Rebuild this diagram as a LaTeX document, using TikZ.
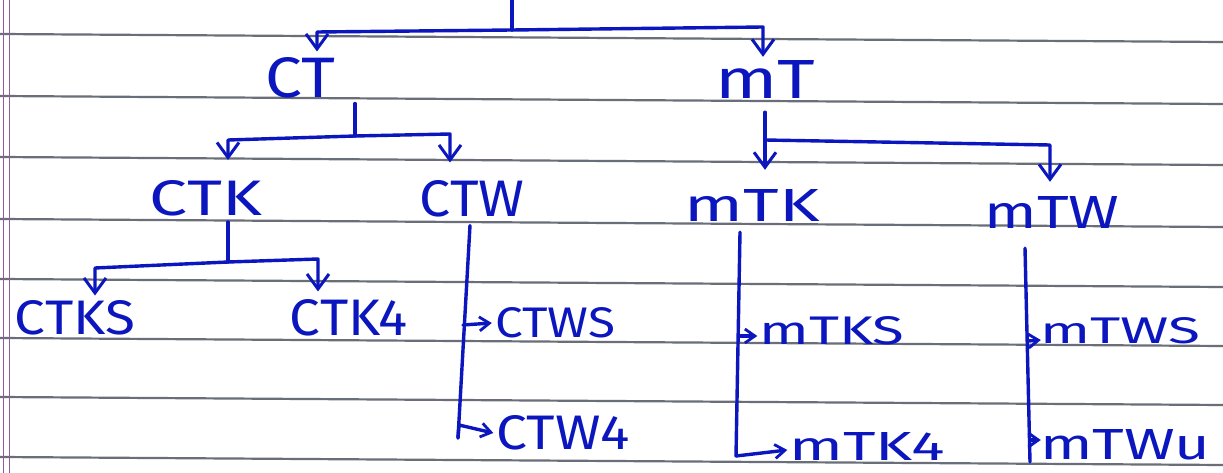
\documentclass[tikz,border=0pt]{standalone}
\usepackage{fontspec}
\usepackage{graphicx}
\setmainfont{Fira Sans}
\usetikzlibrary{arrows.meta}
\definecolor{ink}{RGB}{12,22,190}
\definecolor{rule}{RGB}{105,110,120}
\definecolor{margin}{RGB}{150,90,160}
\newcommand{\hw}[3]{\resizebox{#1pt}{#2pt}{#3}}
\tikzset{
  lab/.style={inner sep=0pt, text=ink, font=\fontsize{40}{40}\selectfont},
  link/.style={draw=ink, line width=3.4pt, line cap=round, line join=round},
  arr/.style={link, -{Straight Barb[length=15pt,width=22pt,line width=3pt]}},
  sarr/.style={link, -{Straight Barb[length=10pt,width=14pt,line width=2.8pt]}},
  paperline/.style={draw=rule, line width=2.2pt}
}
\begin{document}
\begin{tikzpicture}[x=1pt,y=-1pt]
\useasboundingbox (0,0) rectangle (1223,473);
\fill[white] (0,0) rectangle (1223,473);
% ruled paper
\foreach \y in {34,96,157,219,279,338,397,457}
  \draw[paperline] (0,\y) -- (1223,\y+8);
\draw[margin, line width=0.8pt] (3,0) -- (3,473);
\draw[margin, line width=0.8pt] (9,0) -- (9,473);

% nodes
\node[lab] (CT)   at (300,78)  {\hw{70}{40}{CT}};
\node[lab] (mT)   at (765,80)  {\hw{100}{38}{mT}};
\node[lab] (CTK)  at (206,198) {\hw{112}{35}{CTK}};
\node[lab] (CTW)  at (472,199) {\hw{105}{36}{CTW}};
\node[lab] (mTK)  at (752,205) {\hw{135}{32}{mTK}};
\node[lab] (mTW)  at (1052,212){\hw{135}{32}{mTW}};
\node[lab] (CTKS) at (75,318)  {\hw{120}{34}{CTKS}};
\node[lab] (CTK4) at (349,318) {\hw{118}{36}{CTK4}};
\node[lab] (CTWS) at (555,323) {\hw{120}{30}{CTWS}};
\node[lab] (CTW4) at (563,433) {\hw{133}{34}{CTW4}};
\node[lab] (mTKS) at (832,331) {\hw{145}{28}{mTKS}};
\node[lab] (mTK4) at (867,446) {\hw{155}{28}{mTK4}};
\node[lab] (mTWS) at (1120,331){\hw{160}{26}{mTWS}};
\node[lab] (mTWu) at (1125,445){\hw{170}{30}{mTWu}};

% top level
\coordinate (root) at (512,0);
\coordinate (rootj) at (512,30);
\draw[link] (root) -- (rootj);
\draw[arr] (rootj) -- (317,32) -- ([xshift=17pt,yshift=6pt]CT.north);
\draw[arr] (rootj) -- (763,27) -- ([xshift=-2pt,yshift=4pt]mT.north);

% CT children
\coordinate (ctj) at (355,136);
\draw[link] ([xshift=55pt,yshift=-5pt]CT.south) -- (ctj);
\draw[arr] (ctj) -- (228,140) -- ([xshift=22pt,yshift=20pt]CTK.north);
\draw[arr] (ctj) -- (450,134) -- ([xshift=-22pt,yshift=18pt]CTW.north);

% mT children
\coordinate (mtj) at (765,140);
\draw[arr] ([yshift=-13pt]mT.south) -- ([xshift=13pt,yshift=19pt]mTK.north);
\draw[arr] (mtj) -- (1050,145) -- ([xshift=-2pt,yshift=14pt]mTW.north);

% CTK children
\coordinate (ctkj) at (228,262);
\draw[link] ([xshift=22pt,yshift=-6pt]CTK.south) -- (ctkj);
\draw[arr] (ctkj) -- (95,268) -- ([xshift=20pt,yshift=5pt]CTKS.north);
\draw[arr] (ctkj) -- (318,259) -- ([xshift=-31pt,yshift=8pt]CTK4.north);

% CTW trunk
\coordinate (ctwb) at (458,438);
\draw[link] ([xshift=-2pt,yshift=-8pt]CTW.south) -- (ctwb);
\draw[sarr] (463,325) -- ([xshift=-3pt]CTWS.west);
\draw[sarr] (ctwb) -- (459,425) -- ([xshift=-3pt]CTW4.west);

% mTK trunk
\coordinate (mtkb) at (736,456);
\draw[link] ([xshift=-12pt,yshift=-11pt]mTK.south) -- (mtkb);
\draw[sarr] (739,336) -- ([xshift=-2pt,yshift=-5pt]mTKS.west);
\draw[sarr] (mtkb) -- ([xshift=-2pt,yshift=-4pt]mTK4.west);

% mTW trunk
\coordinate (mtwb) at (1030,462);
\draw[link] ([xshift=-27pt,yshift=-20pt]mTW.south) -- (mtwb);
\draw[sarr] (1028,341) -- ([xshift=1pt,yshift=-9pt]mTWS.west);
\draw[sarr] (1030,440) -- ([xshift=1pt,yshift=5pt]mTWu.west);
\end{tikzpicture}
\end{document}
